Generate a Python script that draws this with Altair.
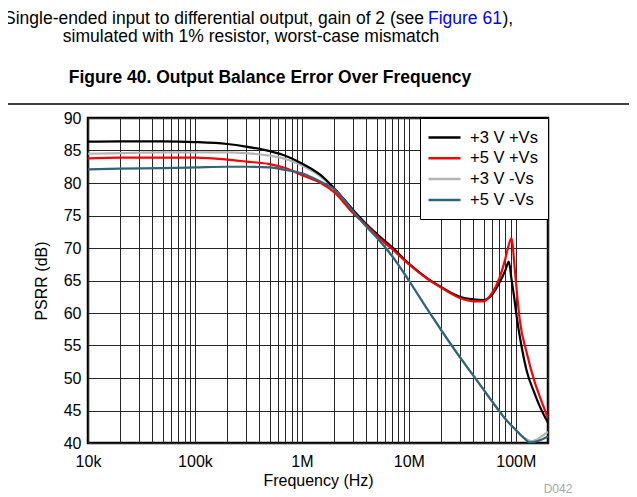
import altair as alt
import pandas as pd

# ---------------- data ----------------
series_names = ['+3 V +Vs', '+5 V +Vs', '+3 V -Vs', '+5 V -Vs']
series_colors = ['#000000', '#ff0000', '#b4b4b4', '#2f6479']

black_freq = [1e4, 2e4, 5e4, 1e5, 2e5, 3e5, 5e5, 7e5, 1e6, 1.5e6, 2e6, 3e6, 4e6, 5e6, 7e6,
              1e7, 1.5e7, 2e7, 3e7, 4e7, 5e7, 6e7, 7e7, 8e7, 8.6e7, 9.1e7, 9.6e7, 1.03e8,
              1.1e8, 1.26e8, 1.5e8, 1.68e8, 2e8]
black_psrr = [86.35, 86.4, 86.4, 86.3, 86.0, 85.6, 84.9, 84.2, 83.0, 81.2, 79.2, 75.9, 73.7, 72.2, 70.1,
              67.6, 65.3, 64.0, 62.5, 62.1, 62.0, 62.8, 64.6, 66.6, 67.9, 65.3, 62.7, 58.9,
              56.0, 51.2, 47.6, 45.6, 43.1]

red_freq = [1e4, 2e4, 5e4, 1e5, 2e5, 3e5, 5e5, 7e5, 1e6, 1.5e6, 2e6, 3e6, 4e6, 5e6, 7e6,
            1e7, 1.5e7, 2e7, 3e7, 4e7, 5e7, 6e7, 7e7, 8e7, 8.6e7, 9.1e7, 9.8e7, 1.04e8,
            1.09e8, 1.26e8, 1.5e8, 1.68e8, 2e8]
red_psrr = [83.8, 83.9, 83.9, 83.9, 83.6, 83.3, 82.9, 82.3, 81.2, 80.0, 78.6, 75.4, 73.5, 71.9, 69.8,
            67.5, 65.2, 63.9, 62.3, 61.8, 61.8, 63.1, 65.3, 68.4, 70.5, 71.5, 66.6, 62.0,
            58.9, 54.0, 49.4, 47.1, 43.8]

gray_freq = [1e4, 2e4, 5e4, 1e5, 2e5, 3e5, 5e5, 7e5, 1e6, 1.5e6, 2e6, 3e6, 4e6, 5e6, 7e6,
             1e7, 1.5e7, 2e7, 3e7, 4e7, 5e7, 6e7, 7e7, 8e7, 1e8, 1.2e8, 1.4e8, 1.7e8, 2e8]
gray_psrr = [84.5, 84.6, 84.7, 84.7, 84.7, 84.6, 84.2, 83.7, 82.7, 81.0, 79.2, 75.8, 73.4, 71.7, 68.8,
             65.0, 60.5, 57.4, 53.2, 50.4, 48.2, 46.4, 44.9, 43.7, 42.0, 40.8, 40.3, 40.9, 41.7]

teal_freq = [1e4, 2e4, 5e4, 1e5, 2e5, 3e5, 5e5, 7e5, 1e6, 1.5e6, 2e6, 3e6, 4e6, 5e6, 7e6,
             1e7, 1.5e7, 2e7, 3e7, 4e7, 5e7, 6e7, 7e7, 8e7, 1e8, 1.2e8, 1.35e8, 1.6e8, 2e8]
teal_psrr = [82.1, 82.2, 82.3, 82.4, 82.5, 82.5, 82.4, 82.0, 81.5, 80.2, 79.1, 75.7, 73.3, 71.6, 68.7,
             65.0, 60.5, 57.4, 53.2, 50.4, 48.2, 46.4, 44.9, 43.7, 42.0, 40.7, 40.1, 40.3, 41.0]

decade_values = [10**4, 10**5, 10**6, 10**7, 10**8]
decade_labels = ['10k', '100k', '1M', '10M', '100M']
y_ticks = [40, 45, 50, 55, 60, 65, 70, 75, 80, 85, 90]

caption_left = 'Single-ended input to differential output, gain of 2 (see'
caption_link = 'Figure 61'
caption_end = '),'
caption_line2 = 'simulated with 1% resistor, worst-case mismatch'
figure_title = 'Figure 40. Output Balance Error Over Frequency'
doc_code = 'D042'

# ---------------- build table ----------------
frames = []
for name, f, v in [(series_names[0], black_freq, black_psrr),
                   (series_names[1], red_freq, red_psrr),
                   (series_names[2], gray_freq, gray_psrr),
                   (series_names[3], teal_freq, teal_psrr)]:
    frames.append(pd.DataFrame({'freq': f, 'psrr': v, 'series': name}))
df = pd.concat(frames, ignore_index=True)

x_grid = [m * 10**e for e in range(4, 9) for m in range(1, 10) if m * 10**e <= 2 * 10**8]
x_grid.append(2 * 10**8)
label_expr = ''.join(f"datum.value == {v} ? '{l}' : " for v, l in zip(decade_values, decade_labels)) + "''"

FONT = 'Liberation Sans'

xenc = alt.X('freq:Q',
             scale=alt.Scale(type='log', domain=[1e4, 2e8]),
             axis=alt.Axis(values=x_grid, labelExpr=label_expr, title='Frequency (Hz)',
                           labelFlush=False, labelOverlap=False, ticks=False, domain=False,
                           labelPadding=10, titlePadding=3))
yenc = alt.Y('psrr:Q',
             scale=alt.Scale(domain=[40, 90]),
             axis=alt.Axis(values=y_ticks, title='PSRR (dB)', ticks=False, domain=False,
                           labelPadding=7, titlePadding=14))
cenc = alt.Color('series:N',
                 scale=alt.Scale(domain=series_names, range=series_colors),
                 legend=alt.Legend(title=None, orient='top-right', offset=0,
                                   symbolType='M-1.375,0H2.625', symbolSize=256,
                                   symbolStrokeWidth=2.5, labelFontSize=16.5,
                                   labelFont=FONT, labelColor='black', fillColor='white',
                                   strokeColor='black', padding=10, rowPadding=2.8,
                                   labelOffset=21))

draw_order = [series_names[2], series_names[0], series_names[1], series_names[3]]
lines = [alt.Chart(df).transform_filter(alt.datum.series == name)
         .mark_line(strokeWidth=2.2, interpolate='monotone', clip=True)
         .encode(x=xenc, y=yenc, color=cenc)
         for name in draw_order]

ann = pd.DataFrame({'k': [0]})


def txt(text, x, y, **kw):
    return alt.Chart(ann).mark_text(text=text, font=FONT, **kw).encode(x=alt.value(x), y=alt.value(y))


anns = [
    txt(caption_left, 336, -94, align='right', baseline='alphabetic', fontSize=17.5, color='black'),
    txt(caption_link, 340, -94, align='left', baseline='alphabetic', fontSize=17.5, color='#0000ff'),
    txt(caption_end, 414.5, -94, align='left', baseline='alphabetic', fontSize=17.5, color='black'),
    txt(caption_line2, 163, -76, align='center', baseline='alphabetic', fontSize=17.5, color='black'),
    txt(figure_title, 182, -35, align='center', baseline='alphabetic', fontSize=17.5,
        fontWeight='bold', color='black'),
    txt(doc_code, 470, 375, align='center', baseline='alphabetic', fontSize=12, color='#a6a6a6'),
    alt.Chart(ann).mark_rule(color='black', strokeWidth=1.3)
    .encode(x=alt.value(-90), x2=alt.value(560), y=alt.value(-14)),
]

chart = (alt.layer(*lines, *anns)
         .properties(width=460, height=325,
                     autosize=alt.AutoSizeParams(type='none'),
                     padding={'left': 80, 'top': 110, 'right': 81, 'bottom': 52})
         .configure_view(stroke='black', strokeWidth=2.5)
         .configure_axis(labelFont=FONT, titleFont=FONT, labelFontSize=16, titleFontSize=16,
                         labelColor='black', titleColor='black', titleFontWeight='normal',
                         grid=True, gridColor='#262626', gridWidth=1, gridOpacity=1)
         )

chart.save('out.html', embed_options={'renderer': 'svg', 'actions': False})
